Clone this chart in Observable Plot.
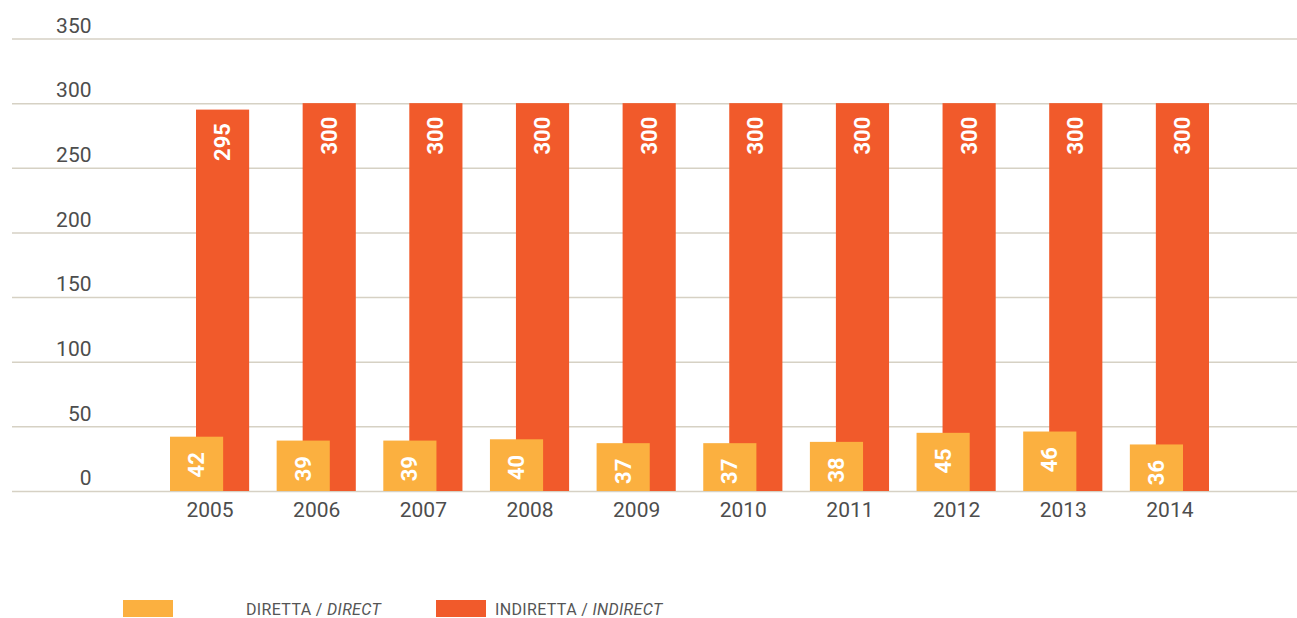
<!DOCTYPE html>
<html><head><meta charset="utf-8">
<script src="https://cdn.jsdelivr.net/npm/d3@7"></script>
<script src="https://cdn.jsdelivr.net/npm/@observablehq/plot@0.6"></script>
<style>
html,body{margin:0;padding:0;background:#fff;overflow:hidden}
#wrap{position:relative;width:1297px;height:618px;font-family:Roboto,sans-serif}
#chart svg{display:block}
.sw{position:absolute;top:600px;width:50px;height:17px}
.lt{position:absolute;top:600px;font-size:16px;line-height:20px;color:#555;letter-spacing:0.35px;white-space:nowrap}
.lt i{font-style:italic}
</style></head><body>
<div id="wrap"><div id="chart"></div>
<div class="sw" id="sw0" style="left:123px"></div><div class="lt" id="lt0" style="left:246px"></div>
<div class="sw" id="sw1" style="left:436px"></div><div class="lt" id="lt1" style="left:495px"></div>
</div>
<script>
const years = ["2005","2006","2007","2008","2009","2010","2011","2012","2013","2014"];
const direct = [42, 39, 39, 40, 37, 37, 38, 45, 46, 36];
const indirect = [295, 300, 300, 300, 300, 300, 300, 300, 300, 300];
const yTicks = [0, 50, 100, 150, 200, 250, 300, 350];
const seriesIt = ["DIRETTA", "INDIRETTA"];
const seriesEn = ["DIRECT", "INDIRECT"];
const colors = ["#FBB040", "#F15A2B"];

const data = years.map((y, i) => ({year: y, direct: direct[i], indirect: indirect[i]}));

const chart = Plot.plot({
  width: 1297,
  height: 560,
  marginLeft: 12,
  marginRight: 0,
  marginTop: 38.5,
  marginBottom: 69,
  style: {fontFamily: "Roboto, sans-serif", fontSize: "21px", color: "#4d4d4d", background: "#fff"},
  x: {type: "band", domain: years, range: [156.25, 1222.75], padding: 0, round: false},
  y: {domain: [0, 350]},
  marks: [
    Plot.gridY(yTicks, {stroke: "#d6d1c4", strokeOpacity: 1, strokeWidth: 1.5}),
    Plot.axisY({ticks: yTicks, tickSize: 0, tickPadding: 0, dx: 79, dy: -13, textAnchor: "end", label: null, fontSize: 21}),
    Plot.axisX({tickSize: 0, tickPadding: 11, label: null, fontSize: 21}),
    Plot.barY(data, {x: "year", y: "indirect", fill: colors[1], insetLeft: 39.75, insetRight: 13.75}),
    Plot.barY(data, {x: "year", y: "direct", fill: colors[0], insetLeft: 13.75, insetRight: 39.75}),
    Plot.text(data, {x: "year", y: "indirect", text: d => String(d.indirect), rotate: -90, textAnchor: "end", lineAnchor: "middle", dx: 13, dy: 13, fill: "white", fontWeight: "bold", fontSize: 22}),
    Plot.text(data, {x: "year", y: "direct", text: d => String(d.direct), rotate: -90, textAnchor: "end", lineAnchor: "middle", dx: -13, dy: 15, fill: "white", fontWeight: "bold", fontSize: 22})
  ]
});
document.getElementById("chart").appendChild(chart);
for (let i = 0; i < 2; i++) {
  document.getElementById("sw" + i).style.background = colors[i];
  document.getElementById("lt" + i).innerHTML = seriesIt[i] + " / <i>" + seriesEn[i] + "</i>";
}
</script>
</body></html>
